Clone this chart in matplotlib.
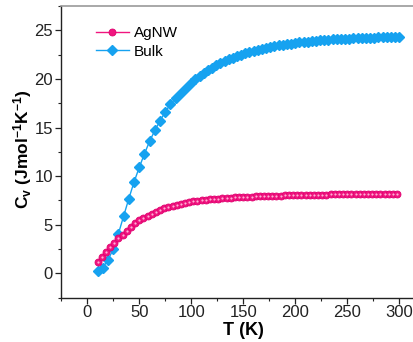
import matplotlib
matplotlib.use("Agg")
import matplotlib.pyplot as plt
from matplotlib.ticker import MultipleLocator

plt.rcParams['font.family'] = ['Liberation Sans', 'DejaVu Sans']
plt.rcParams['mathtext.fontset'] = 'custom'
plt.rcParams['mathtext.rm'] = 'Liberation Sans:bold'
plt.rcParams['mathtext.bf'] = 'Liberation Sans:bold'
plt.rcParams['mathtext.it'] = 'Liberation Sans:bold'

# AgNW data
T_agnw = [10, 14, 18, 22, 26, 30, 34, 38, 42, 46, 50, 54, 58, 62, 66, 70, 74, 78, 82, 86,
          90, 94, 98, 102, 106, 110, 114, 118, 122, 126, 130, 134, 138, 142, 146, 150, 154,
          158, 162, 166, 170, 174, 178, 182, 186, 190, 194, 198, 202, 206, 210, 214, 218,
          222, 226, 230, 234, 238, 242, 246, 250, 254, 258, 262, 266, 270, 274, 278, 282,
          286, 290, 294, 298]
cv_agnw = [1.2, 1.7, 2.2, 2.7, 3.1, 3.6, 4.0, 4.4, 4.8, 5.15, 5.45, 5.7, 5.95, 6.15, 6.35,
           6.52, 6.68, 6.82, 6.95, 7.06, 7.16, 7.25, 7.33, 7.4, 7.46, 7.52, 7.57, 7.62, 7.66,
           7.7, 7.73, 7.76, 7.79, 7.82, 7.84, 7.86, 7.88, 7.9, 7.92, 7.94, 7.95, 7.97, 7.98,
           8.0, 8.01, 8.02, 8.03, 8.04, 8.05, 8.06, 8.07, 8.08, 8.09, 8.1, 8.1, 8.11, 8.12,
           8.13, 8.13, 8.14, 8.15, 8.15, 8.16, 8.17, 8.17, 8.18, 8.18, 8.19, 8.19, 8.2, 8.2,
           8.21, 8.21]

# Bulk data
T_bulk = [10, 15, 20, 25, 30, 35, 40, 45, 50, 55, 60, 65, 70, 75, 80, 85, 90, 95,
          100, 104, 108, 112, 116, 120, 124, 128, 132, 136, 140, 144, 148, 152, 156, 160,
          164, 168, 172, 176, 180, 184, 188, 192, 196, 200, 204, 208, 212, 216, 220, 224,
          228, 232, 236, 240, 244, 248, 252, 256, 260, 264, 268, 272, 276, 280, 284, 288,
          292, 296, 300]
cv_bulk = [0.2, 0.6, 1.4, 2.5, 4.1, 5.9, 7.7, 9.4, 10.9, 12.3, 13.6, 14.7, 15.7, 16.6,
           17.4, 18.0, 18.6, 19.1,
           19.6, 20.0, 20.3, 20.6, 20.9, 21.15, 21.4, 21.6, 21.8, 22.0, 22.2, 22.35, 22.5,
           22.65, 22.8, 22.9, 23.0, 23.1, 23.2, 23.3, 23.38, 23.45, 23.52, 23.58, 23.64,
           23.7, 23.75, 23.8, 23.84, 23.88, 23.92, 23.96, 24.0, 24.03, 24.06, 24.09, 24.11,
           24.13, 24.15, 24.17, 24.19, 24.21, 24.22, 24.24, 24.25, 24.27, 24.28, 24.29,
           24.3, 24.31, 24.32]

xticks = [0, 50, 100, 150, 200, 250, 300]
yticks = [0, 5, 10, 15, 20, 25]

pink = '#F0157F'
blue = '#16A2F0'

fig = plt.figure(figsize=(4.14, 3.42), dpi=100)
ax = fig.add_axes([0.148, 0.1295, 0.879, 0.853])

ax.plot(T_agnw, cv_agnw, color=pink, lw=1.0, marker='o', ms=5.0,
        mfc=pink, mec='#E0006F', mew=0.6, label='AgNW', zorder=3)
ax.plot(T_agnw, cv_agnw, ls='none', marker='o', ms=1.6, mfc='#FFB0D5', mec='none', zorder=4)
ax.plot(T_bulk, cv_bulk, color=blue, lw=1.0, marker='D', ms=5.4,
        mfc=blue, mec=blue, label='Bulk', zorder=2)

ax.set_xlim(-25, 325)
ax.set_ylim(-2.5, 27.5)
ax.set_xticks(xticks)
ax.set_yticks(yticks)
ax.xaxis.set_minor_locator(MultipleLocator(25))
ax.yaxis.set_minor_locator(MultipleLocator(2.5))
ax.tick_params(which='major', direction='out', length=4.5, width=0.9,
               labelsize=12, colors='#222222')
ax.tick_params(axis='x', which='major', pad=1.0)
ax.tick_params(axis='y', which='major', pad=1.5)
ax.tick_params(which='minor', direction='out', length=2.5, width=0.8, colors='#222222')
for s in ['left', 'bottom']:
    ax.spines[s].set_color('#222222')
    ax.spines[s].set_linewidth(1.0)
ax.spines['top'].set_color('#999999')
ax.spines['top'].set_linewidth(1.2)
ax.spines['right'].set_color('#999999')

ax.set_xlabel('T (K)', fontsize=13, fontweight='bold')
ax.xaxis.set_label_coords(0.5, -0.083)
ax.set_ylabel(r'C$_{v}$ (Jmol$^{-1}$K$^{-1}$)', fontsize=12.5, fontweight='bold')
ax.yaxis.set_label_coords(-0.075, 0.51)

leg = ax.legend(loc='upper left', bbox_to_anchor=(0.069, 0.962), frameon=False,
                fontsize=11, handlelength=2.2, handletextpad=0.3, labelspacing=0.3,
                borderaxespad=0.2)

fig.savefig('out.png', dpi=100)
